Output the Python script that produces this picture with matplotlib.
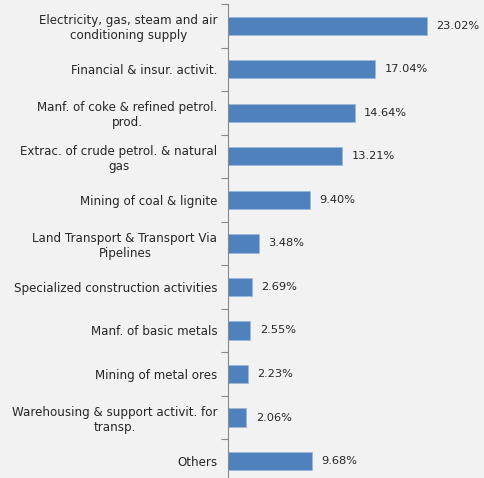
import numpy as np
import matplotlib.pyplot as plt

sectors = [
    "Electricity, gas, steam and air\nconditioning supply",
    "Financial & insur. activit.",
    "Manf. of coke & refined petrol.\nprod.",
    "Extrac. of crude petrol. & natural\ngas",
    "Mining of coal & lignite",
    "Land Transport & Transport Via\nPipelines",
    "Specialized construction activities",
    "Manf. of basic metals",
    "Mining of metal ores",
    "Warehousing & support activit. for\ntransp.",
    "Others",
]
shares = [23.02, 17.04, 14.64, 13.21, 9.40, 3.48, 2.69, 2.55, 2.23, 2.06, 9.68]

bg = "#f2f2f2"
fig = plt.figure(figsize=(4.85, 4.78), dpi=100, facecolor=bg)
ax = fig.add_axes([228.5 / 485, -4.8 / 478, 1 - 228.5 / 485, 478.8 / 478])
ax.set_facecolor(bg)

y = np.arange(len(sectors))
ax.barh(y, shares, height=0.42, color="#4f81bd", edgecolor="#9bb8dc", linewidth=0.6)
for yi, v in zip(y, shares):
    ax.text(v + 1.1, yi, f"{v:.2f}%", va="center", ha="left", fontsize=8.2, color="#262626")

ax.set_ylim(len(sectors) - 0.5, -0.5)
ax.set_xlim(0, 29.75)
ax.set_yticks(y)
ax.set_yticklabels(sectors, fontsize=8.6, color="#262626", multialignment="center")
ax.set_yticks(np.arange(len(sectors) + 1) - 0.5, minor=True)
ax.tick_params(axis="y", which="major", length=0, pad=8)
ax.tick_params(axis="y", which="minor", length=5, color="#888888", width=0.8)
ax.set_xticks([])
for s in ["top", "right", "bottom"]:
    ax.spines[s].set_visible(False)
ax.spines["left"].set_color("#888888")
ax.spines["left"].set_linewidth(0.8)

fig.savefig("out.png", dpi=100, facecolor=bg)
